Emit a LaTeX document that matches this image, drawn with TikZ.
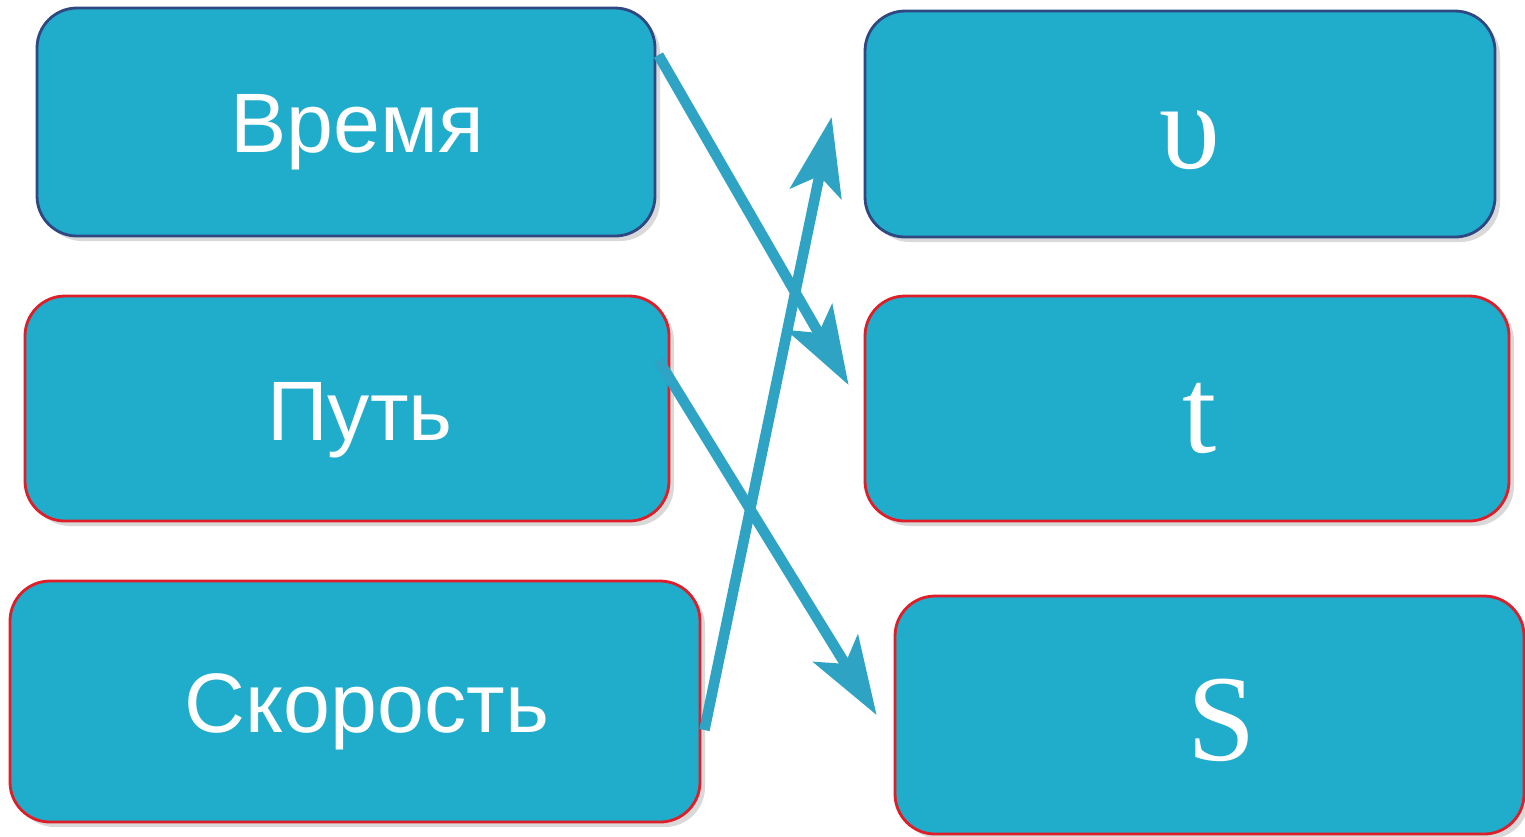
\documentclass[tikz,border=0pt]{standalone}
\usepackage{fontspec}
\newfontfamily\cyrsans{Liberation Sans}
\newfontfamily\symserif{LiberationSerif-Regular.ttf}
\usetikzlibrary{arrows.meta,shadows}
\definecolor{cardfill}{RGB}{32,172,203}
\definecolor{linkblue}{RGB}{46,163,196}
\definecolor{edgeblue}{RGB}{47,72,130}
\definecolor{edgered}{RGB}{222,30,40}
\newcommand{\card}[5]{%
 \node[card, draw={#5}, minimum width={#3}, minimum height={#4}] ({#1}) at ({#2}) {};%
}

\begin{document}
\begin{tikzpicture}[
  card/.style={rectangle, rounded corners=0.4cm, fill=cardfill, line width=0.8pt, inner sep=0pt,
    drop shadow={shadow xshift=0.05cm, shadow yshift=-0.05cm, opacity=0.3}},
  word/.style={text=white, anchor=base, inner sep=0pt, font=\cyrsans\fontsize{24}{28}\selectfont},
  sym/.style={text=white, anchor=base, inner sep=0pt, font=\symserif\fontsize{35}{40}\selectfont},
  link/.style={draw=linkblue, line width=3pt, -{Stealth[length=0.78cm, width=0.52cm, inset=0.18cm]}}]
   \useasboundingbox (0,0) rectangle (15.25,-8.36);
   \card{b1}{3.46,-1.22}{6.18cm}{2.28cm}{edgeblue}
   \card{b2}{3.47,-4.085}{6.44cm}{2.25cm}{edgered}
   \card{b3}{3.55,-7.015}{6.90cm}{2.41cm}{edgered}
   \card{b4}{11.80,-1.24}{6.30cm}{2.26cm}{edgeblue}
   \card{b5}{11.87,-4.085}{6.44cm}{2.25cm}{edgered}
   \card{b6}{12.095,-7.15}{6.29cm}{2.38cm}{edgered}
   \node[word] (w1) at (3.57,-1.52) {Время};
   \node[word] (w2) at (3.60,-4.40) {Путь};
   \node[word] (w3) at (3.67,-7.32) {Скорость};
   \node[sym] (v) at (11.90,-1.68) {υ};
   \node[sym] (t) at (12.00,-4.52) {t};
   \node[sym] (s) at (12.22,-7.60) {S};
   \draw[link] ([xshift=0.02cm, yshift=0.67cm]b1.east) -- ([xshift=-0.15cm, yshift=0.235cm]b5.west);
   \draw[link] ([xshift=0.03cm, yshift=-0.285cm]b3.east) -- ([xshift=-0.32cm, yshift=0.07cm]b4.west);
   \draw[link] ([xshift=-0.12cm, yshift=0.485cm]b2.east) -- ([xshift=-0.17cm]b6.west);
\end{tikzpicture}
\end{document}
